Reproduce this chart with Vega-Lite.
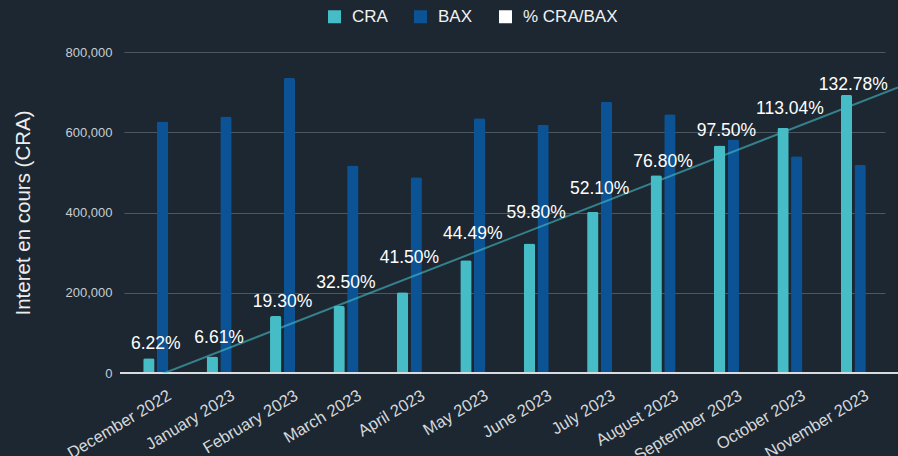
{
  "$schema": "https://vega.github.io/schema/vega-lite/v6.json",
  "width": 778,
  "height": 321,
  "autosize": {"type": "none"},
  "padding": {"left": 120, "top": 52, "right": 0, "bottom": 83},
  "background": "#1c2732",
  "config": {
    "view": {"stroke": null},
    "font": "Liberation Sans",
    "numberFormat": ",",
    "axisY": {
      "grid": true, "gridColor": "#4d5761", "gridWidth": 1,
      "domain": false, "ticks": false,
      "labelColor": "#c9cdd1", "labelFontSize": 13, "labelPadding": 8,
      "titleColor": "#eeeeee", "titleFontSize": 20.5, "titleFontWeight": "normal", "titlePadding": 32
    },
    "axisX": {
      "grid": false, "domain": false, "ticks": false,
      "labelAngle": -31, "labelFontSize": 16.5, "labelColor": "#d5d8db",
      "labelPadding": 14, "labelOffset": 10
    }
  },
  "data": {
    "values": [
      {"month": "December 2022", "i": 0, "CRA": 37000, "BAX": 627000, "pct": "6.22%", "pctPlot": 73300},
      {"month": "January 2023", "i": 1, "CRA": 41000, "BAX": 639000, "pct": "6.61%", "pctPlot": 88200},
      {"month": "February 2023", "i": 2, "CRA": 142000, "BAX": 735000, "pct": "19.30%", "pctPlot": 176900},
      {"month": "March 2023", "i": 3, "CRA": 167000, "BAX": 517000, "pct": "32.50%", "pctPlot": 224300},
      {"month": "April 2023", "i": 4, "CRA": 201000, "BAX": 488000, "pct": "41.50%", "pctPlot": 287600},
      {"month": "May 2023", "i": 5, "CRA": 281000, "BAX": 635000, "pct": "44.49%", "pctPlot": 345600},
      {"month": "June 2023", "i": 6, "CRA": 323000, "BAX": 619000, "pct": "59.80%", "pctPlot": 399700},
      {"month": "July 2023", "i": 7, "CRA": 402000, "BAX": 676000, "pct": "52.10%", "pctPlot": 459500},
      {"month": "August 2023", "i": 8, "CRA": 493000, "BAX": 645000, "pct": "76.80%", "pctPlot": 525800},
      {"month": "September 2023", "i": 9, "CRA": 567000, "BAX": 582000, "pct": "97.50%", "pctPlot": 602300},
      {"month": "October 2023", "i": 10, "CRA": 611000, "BAX": 540000, "pct": "113.04%", "pctPlot": 657100},
      {"month": "November 2023", "i": 11, "CRA": 693000, "BAX": 519000, "pct": "132.78%", "pctPlot": 718700}
    ]
  },
  "layer": [
    {
      "transform": [{"fold": ["CRA", "BAX"], "as": ["series", "value"]}],
      "mark": {"type": "bar", "cornerRadiusTopLeft": 2, "cornerRadiusTopRight": 2},
      "encoding": {
        "x": {"field": "month", "type": "ordinal", "sort": null, "title": null,
              "scale": {"range": [4, 765], "paddingInner": 0.605, "paddingOuter": 0.3025}},
        "xOffset": {"field": "series", "type": "nominal", "scale": {"domain": ["CRA", "BAX"], "paddingInner": 0.17}},
        "y": {"field": "value", "type": "quantitative", "title": "Interet en cours (CRA)",
              "scale": {"domain": [0, 800000], "nice": false},
              "axis": {"values": [0, 200000, 400000, 600000, 800000], "labelExpr": "format(datum.value, ',')"}},
        "color": {"field": "series", "type": "nominal",
                  "scale": {"domain": ["CRA", "BAX", "% CRA/BAX"], "range": ["#46bdc6", "#0b5394", "#ffffff"]},
                  "legend": {"orient": "none", "legendX": 206, "legendY": -44, "direction": "horizontal",
                             "title": null, "symbolType": "square", "symbolSize": 169, "symbolStrokeWidth": 0,
                             "labelFontSize": 17, "labelColor": "#f2f2f2", "columnPadding": 24, "labelOffset": 9}}
      }
    },
    {
      "mark": {"type": "rule", "color": "#d9dce0", "strokeWidth": 1.5},
      "encoding": {"y": {"datum": 0, "type": "quantitative", "title": "Interet en cours (CRA)",
                         "axis": {"values": [0, 200000, 400000, 600000, 800000], "labelExpr": "format(datum.value, ',')"}}}
    },
    {
      "transform": [{"regression": "CRA", "on": "i", "extent": [0, 11.705]}],
      "mark": {"type": "line", "color": "#46bdc6", "opacity": 0.6, "strokeWidth": 2, "clip": true},
      "encoding": {
        "x": {"field": "i", "type": "quantitative", "axis": null,
              "scale": {"domain": [-0.5631, 11.705], "nice": false, "zero": false}},
        "y": {"field": "CRA", "type": "quantitative", "title": "Interet en cours (CRA)",
              "axis": {"values": [0, 200000, 400000, 600000, 800000], "labelExpr": "format(datum.value, ',')"}}
      }
    },
    {
      "mark": {"type": "text", "fontSize": 17.5, "baseline": "middle", "align": "center"},
      "encoding": {
        "x": {"field": "month", "type": "ordinal", "sort": null, "axis": null,
              "scale": {"range": [4, 765], "paddingInner": 0.605, "paddingOuter": 0.3025}},
        "y": {"field": "pctPlot", "type": "quantitative", "title": "Interet en cours (CRA)",
              "axis": {"values": [0, 200000, 400000, 600000, 800000], "labelExpr": "format(datum.value, ',')"}},
        "text": {"field": "pct"},
        "color": {"datum": "% CRA/BAX"}
      }
    }
  ],
  "resolve": {"scale": {"x": "independent"}, "axis": {"x": "independent"}}
}
